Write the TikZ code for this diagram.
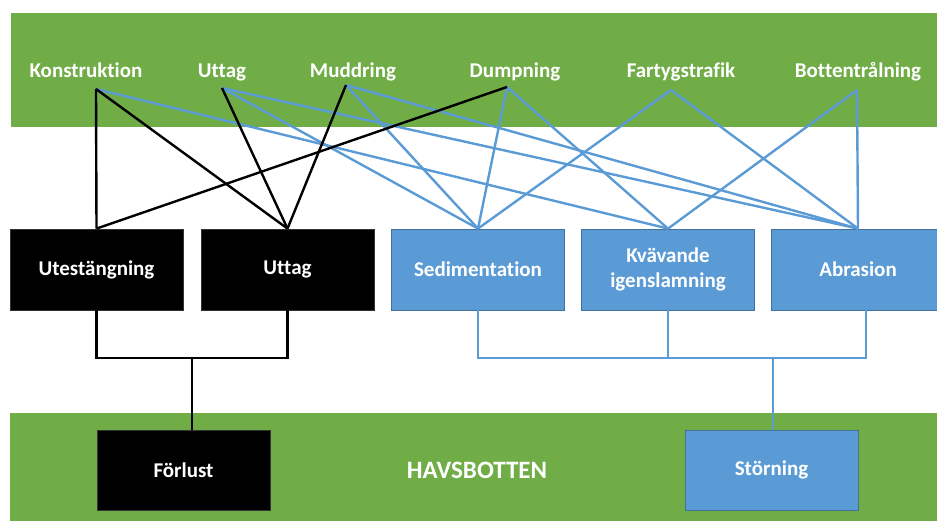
\documentclass[tikz,border=0pt]{standalone}
\usepackage{fontspec}
\setmainfont[Ligatures={NoCommon,TeX}]{Carlito}
\definecolor{bandgreen}{HTML}{70AD47}
\definecolor{boxblue}{HTML}{5B9BD5}
\definecolor{boxblueedge}{HTML}{41719C}
\begin{document}
\begin{tikzpicture}[x=1pt,y=-1pt,
  lbl/.style={text=white,font=\bfseries\fontsize{21}{23}\selectfont,inner sep=0pt,anchor=base},
  box/.style={minimum width=173pt,minimum height=81pt,inner sep=0pt,text=white,
    font=\bfseries\fontsize{21}{25}\selectfont,align=center},
  blackbox/.style={box,fill=black,draw=black!80,line width=0.8pt},
  bluebox/.style={box,fill=boxblue,draw=boxblueedge,line width=0.8pt},
  blk/.style={draw=black,line width=2.4pt},
  blu/.style={draw=boxblue,line width=2.4pt}]
\useasboundingbox (0,0) rectangle (937,521);
\clip (0,0) rectangle (937,521);
% bands
\fill[bandgreen] (11,13) rectangle (937,127);
\fill[bandgreen] (10,413) rectangle (937,521);
% top labels
\node[lbl] (konst) at (86,78) {Konstruktion};
\node[lbl] (uttag) at (222,78) {Uttag};
\node[lbl] (mudd) at (353,78) {Muddring};
\node[lbl] (dump) at (515,78) {Dumpning};
\node[lbl] (fart) at (681,78) {Fartygstrafik};
\node[lbl] (bott) at (858,78) {Bottentrålning};
\coordinate (kA) at (96,89);
\coordinate (uA) at (222,88);
\coordinate (mA) at (346,85);
\coordinate (dA) at (507,87);
\coordinate (fA) at (671,90);
\coordinate (bA) at (857,90);
% middle boxes
\node[blackbox] (b1) at (96.5,269.5) {Utestängning};
\node[blackbox] (b2) at (287.5,269.5) {Uttag};
\node[bluebox] (b3) at (478,269.5) {Sedimentation};
\node[bluebox] (b4) at (668,269.5) {Kvävande\\igenslamning};
\node[bluebox] (b5) at (858,269.5) {Abrasion};
% bottom
\node[blackbox,minimum height=80pt] (forl) at (183.5,470) {Förlust};
\node[bluebox,minimum height=80pt] (stor) at (771.5,470) {Störning};
\node[lbl,font=\bfseries\fontsize{25}{29}\selectfont] (havs) at (477,478) {HAVSBOTTEN};
% blue links
\draw[blu] (kA) -- (b4.north);
\draw[blu] (uA) -- (b3.north);
\draw[blu] (uA) -- (b5.north);
\draw[blu] (mA) -- (b3.north);
\draw[blu] (mA) -- (b5.north);
\draw[blu] (dA) -- (b3.north);
\draw[blu] (dA) -- (b4.north);
\draw[blu] (fA) -- (b3.north);
\draw[blu] (fA) -- (b5.north);
\draw[blu] (bA) -- (b4.north);
\draw[blu] (bA) -- (b5.north);
% black links
\draw[blk] (kA) -- (b1.north);
\draw[blk] (kA) -- (b2.north);
\draw[blk] (uA) -- (b2.north);
\draw[blk] (mA) -- (b2.north);
\draw[blk] (dA) -- (b1.north);
% lower joins
\coordinate (jL) at (192,358);
\draw[blk] (b1.south) |- (jL) -| (b2.south);
\draw[blk] (jL) -- (forl.north -| jL);
\coordinate (jR) at (773,358);
\coordinate (b5d) at (866,310);
\draw[blu] (b3.south) |- (jR) -| (b5d);
\draw[blu] (b4.south) -- (b4.south |- jR);
\draw[blu] (jR) -- (stor.north -| jR);
\end{tikzpicture}
\end{document}
